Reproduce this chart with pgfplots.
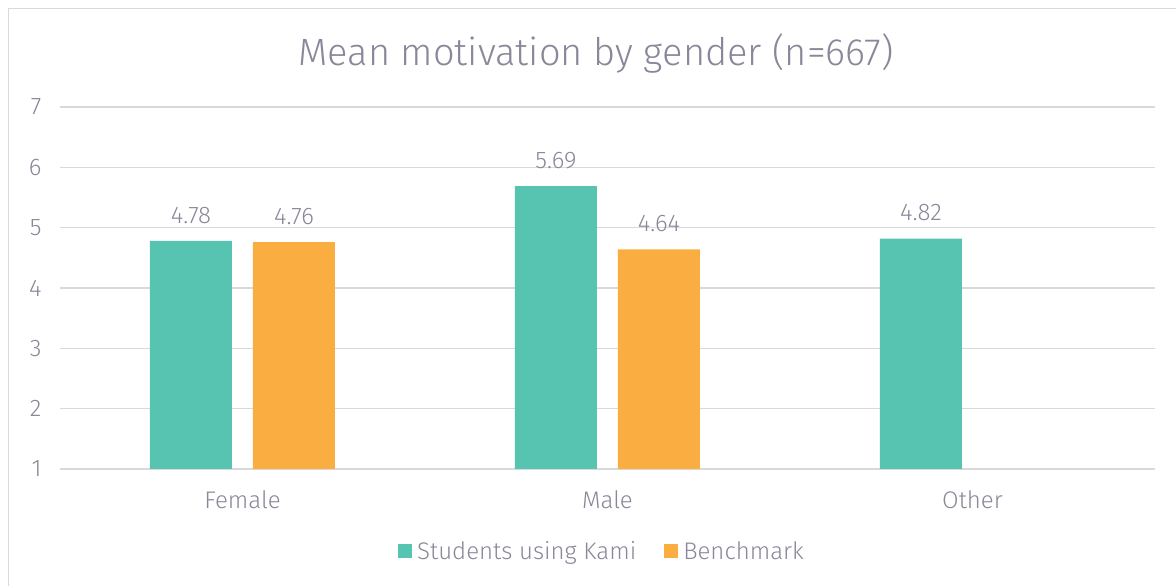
\documentclass[border=0pt]{standalone}
\usepackage{fontspec}
\setmainfont{Fira Sans Light}
\usepackage{pgfplots}
\pgfplotsset{compat=1.18}
\definecolor{kteal}{RGB}{87,196,178}
\definecolor{korange}{RGB}{250,174,66}
\definecolor{ktext}{RGB}{139,134,152}
\definecolor{kgrid}{RGB}{217,217,217}

\begin{document}
\begin{tikzpicture}[x=1pt,y=1pt]
\path[use as bounding box] (0,0) rectangle (1176,586);
\draw[kgrid, line width=1.5pt] (8.5,-2) -- (8.5,577.5) -- (1180,577.5);
\node[text=ktext, font=\fontsize{38}{46}\selectfont] at (596,533) {Mean motivation by gender (n=667)};
\begin{axis}[
  at={(60pt,117pt)}, anchor=south west,
  scale only axis, width=1095pt, height=362pt,
  ybar, bar width=82pt,
  clip mode=individual,
  xmin=-0.5, xmax=2.5, ymin=1, ymax=7,
  xtick={0,1,2}, xticklabels={Female,Male,Other},
  ytick={1,2,...,7},
  ymajorgrids, grid style={kgrid, line width=1.5pt},
  axis x line*=bottom, axis y line*=left,
  y axis line style={draw=none},
  x axis line style={kgrid, line width=1.5pt, -},
  major tick length=0pt, tick style={draw=none},
  ticklabel style={font=\fontsize{24}{28}\selectfont, text=ktext},
  yticklabel style={xshift=-15pt},
  xticklabel style={yshift=-18pt},
  /pgf/number format/assume math mode=true,
  nodes near coords={\pgfmathprintnumber[fixed,fixed zerofill,precision=2,assume math mode=true]{\pgfplotspointmeta}},
  every node near coord/.append style={font=\fontsize{24}{28}\selectfont, text=ktext, yshift=14pt},
  legend columns=2,
  legend style={at={(0.495,-0.2265)}, anchor=center, draw=none, fill=none,
    font=\fontsize{24}{28}\selectfont, text=ktext,
    /tikz/every even column/.append style={column sep=26pt}},
  legend image code/.code={\fill[#1] (0pt,-7pt) rectangle (14pt,7pt); \path (0pt,0pt) -- (17pt,0pt);},
]
\addplot[fill=kteal, draw=none, bar shift=-51.5pt] coordinates {(0,4.78) (1,5.69) (2,4.82)};
\addplot[fill=korange, draw=none, bar shift=51.5pt] coordinates {(0,4.76) (1,4.64)};
\legend{Students using Kami, Benchmark}
\end{axis}
\end{tikzpicture}
\end{document}
